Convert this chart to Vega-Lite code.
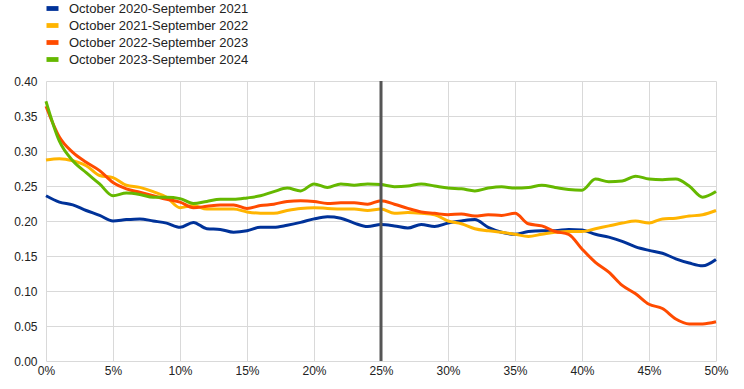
{
  "$schema": "https://vega.github.io/schema/vega-lite/v6.json",
  "width": 670,
  "height": 280,
  "autosize": {"type": "none"},
  "padding": {"left": 46, "top": 81, "right": 28, "bottom": 28},
  "background": "white",
  "config": {
    "font": "Liberation Sans",
    "view": {"stroke": null},
    "axis": {"labelFont": "Liberation Sans", "labelFontSize": 12, "labelColor": "#222", "gridColor": "#d9d9d9", "gridWidth": 1, "domain": false, "ticks": false, "title": null}
  },
  "layer": [
    {
      "data": {"values": [
        {"p":0.00,"a":0.236,"b":0.287,"c":0.364,"d":0.371},
        {"p":0.01,"a":0.227,"b":0.289,"c":0.320,"d":0.314},
        {"p":0.02,"a":0.223,"b":0.286,"c":0.298,"d":0.286},
        {"p":0.03,"a":0.215,"b":0.279,"c":0.284,"d":0.269},
        {"p":0.04,"a":0.208,"b":0.265,"c":0.272,"d":0.253},
        {"p":0.05,"a":0.200,"b":0.262,"c":0.255,"d":0.236},
        {"p":0.06,"a":0.202,"b":0.251,"c":0.246,"d":0.240},
        {"p":0.07,"a":0.203,"b":0.248,"c":0.241,"d":0.238},
        {"p":0.08,"a":0.200,"b":0.242,"c":0.236,"d":0.234},
        {"p":0.09,"a":0.197,"b":0.234,"c":0.231,"d":0.234},
        {"p":0.10,"a":0.191,"b":0.219,"c":0.227,"d":0.232},
        {"p":0.11,"a":0.198,"b":0.222,"c":0.219,"d":0.225},
        {"p":0.12,"a":0.189,"b":0.217,"c":0.221,"d":0.228},
        {"p":0.13,"a":0.188,"b":0.217,"c":0.223,"d":0.231},
        {"p":0.14,"a":0.184,"b":0.217,"c":0.223,"d":0.231},
        {"p":0.15,"a":0.186,"b":0.213,"c":0.218,"d":0.233},
        {"p":0.16,"a":0.191,"b":0.211,"c":0.222,"d":0.236},
        {"p":0.17,"a":0.191,"b":0.211,"c":0.224,"d":0.242},
        {"p":0.18,"a":0.194,"b":0.215,"c":0.228,"d":0.247},
        {"p":0.19,"a":0.198,"b":0.218,"c":0.229,"d":0.243},
        {"p":0.20,"a":0.203,"b":0.219,"c":0.228,"d":0.253},
        {"p":0.21,"a":0.206,"b":0.218,"c":0.225,"d":0.248},
        {"p":0.22,"a":0.204,"b":0.217,"c":0.226,"d":0.253},
        {"p":0.23,"a":0.197,"b":0.217,"c":0.226,"d":0.251},
        {"p":0.24,"a":0.192,"b":0.215,"c":0.224,"d":0.253},
        {"p":0.25,"a":0.195,"b":0.217,"c":0.229,"d":0.252},
        {"p":0.26,"a":0.193,"b":0.211,"c":0.224,"d":0.249},
        {"p":0.27,"a":0.190,"b":0.212,"c":0.218,"d":0.250},
        {"p":0.28,"a":0.195,"b":0.211,"c":0.213,"d":0.253},
        {"p":0.29,"a":0.192,"b":0.209,"c":0.211,"d":0.250},
        {"p":0.30,"a":0.197,"b":0.200,"c":0.209,"d":0.247},
        {"p":0.31,"a":0.200,"b":0.196,"c":0.210,"d":0.246},
        {"p":0.32,"a":0.202,"b":0.189,"c":0.207,"d":0.243},
        {"p":0.33,"a":0.191,"b":0.186,"c":0.209,"d":0.247},
        {"p":0.34,"a":0.184,"b":0.184,"c":0.208,"d":0.249},
        {"p":0.35,"a":0.181,"b":0.181,"c":0.211,"d":0.247},
        {"p":0.36,"a":0.185,"b":0.178,"c":0.196,"d":0.248},
        {"p":0.37,"a":0.186,"b":0.181,"c":0.193,"d":0.251},
        {"p":0.38,"a":0.186,"b":0.184,"c":0.185,"d":0.248},
        {"p":0.39,"a":0.188,"b":0.185,"c":0.181,"d":0.245},
        {"p":0.40,"a":0.187,"b":0.185,"c":0.160,"d":0.244},
        {"p":0.41,"a":0.181,"b":0.189,"c":0.141,"d":0.260},
        {"p":0.42,"a":0.177,"b":0.193,"c":0.127,"d":0.256},
        {"p":0.43,"a":0.171,"b":0.197,"c":0.108,"d":0.257},
        {"p":0.44,"a":0.163,"b":0.200,"c":0.096,"d":0.264},
        {"p":0.45,"a":0.158,"b":0.197,"c":0.081,"d":0.260},
        {"p":0.46,"a":0.154,"b":0.203,"c":0.075,"d":0.259},
        {"p":0.47,"a":0.146,"b":0.204,"c":0.060,"d":0.260},
        {"p":0.48,"a":0.140,"b":0.207,"c":0.053,"d":0.250},
        {"p":0.49,"a":0.136,"b":0.209,"c":0.053,"d":0.234},
        {"p":0.50,"a":0.145,"b":0.215,"c":0.056,"d":0.242}
      ]},
      "transform": [
        {"fold": ["a", "b", "c", "d"], "as": ["key", "v"]},
        {"lookup": "key", "from": {"data": {"values": [
          {"key": "a", "series": "October 2020-September 2021"},
          {"key": "b", "series": "October 2021-September 2022"},
          {"key": "c", "series": "October 2022-September 2023"},
          {"key": "d", "series": "October 2023-September 2024"}
        ]}, "key": "key", "fields": ["series"]}}
      ],
      "mark": {"type": "line", "interpolate": "monotone", "strokeWidth": 3},
      "encoding": {
        "x": {"field": "p", "type": "quantitative", "scale": {"domain": [0, 0.5], "nice": false}, "axis": {"values": [0,0.05,0.1,0.15,0.2,0.25,0.3,0.35,0.4,0.45,0.5], "format": ".0%", "labelPadding": 4, "labelFlush": false}},
        "y": {"field": "v", "type": "quantitative", "scale": {"domain": [0, 0.4], "nice": false}, "axis": {"values": [0,0.05,0.1,0.15,0.2,0.25,0.3,0.35,0.4], "format": ".2f", "labelPadding": 9}},
        "color": {"field": "series", "type": "nominal", "scale": {"domain": ["October 2020-September 2021", "October 2021-September 2022", "October 2022-September 2023", "October 2023-September 2024"], "range": ["#003299", "#ffb400", "#ff4b00", "#65b800"]},
          "legend": {"orient": "none", "legendX": 0, "legendY": -79, "direction": "vertical", "title": null, "padding": 0, "symbolType": "M-1,-0.4H1V0.4H-1Z", "symbolSize": 144, "symbolStrokeWidth": 0, "labelFont": "Liberation Sans", "labelFontSize": 13, "labelColor": "#222", "labelOffset": 10, "labelLimit": 0, "rowPadding": 3,
            "encode": {"symbols": {"update": {"fill": {"scale": "color", "field": "value"}, "strokeWidth": {"value": 0}}}}}},
        "order": {"field": "key"}
      }
    },
    {
      "data": {"values": [{"p": 0.25}]},
      "mark": {"type": "rule", "color": "#555555", "strokeWidth": 3},
      "encoding": {"x": {"field": "p", "type": "quantitative"}}
    }
  ]
}
